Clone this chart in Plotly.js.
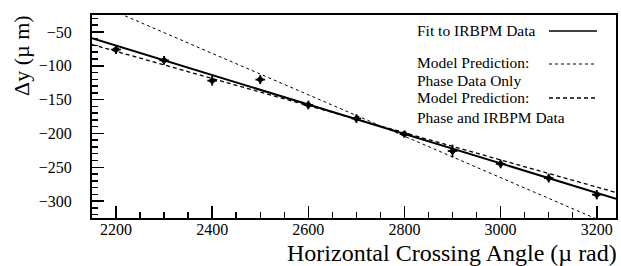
<!DOCTYPE html>
<html>
<head>
<meta charset="utf-8">
<script src="https://cdn.plot.ly/plotly-3.0.1.min.js"></script>
<style>html,body{margin:0;padding:0;background:#fff;}#chart{width:621px;height:266px;}</style>
</head>
<body>
<div id="chart"></div>
<script>
// Measured data (IRBPM)
var angle = [2200, 2300, 2400, 2500, 2600, 2700, 2800, 2900, 3000, 3100, 3200];
var deltaY = [-76, -92, -122, -120.5, -158, -178, -201, -226, -245, -266, -290.5];
var deltaYErr = [6.7, 6.5, 7.4, 6.7, 6.5, 6.5, 5, 9.4, 6.5, 6.5, 7];
var angleErr = [10, 10, 10, 10, 10, 10, 10, 10, 10, 10, 10];

// Lines (endpoints)
var fitX = [2150, 3240];
var fitY = [-59.3, -296.5];
var phaseOnlyX = [2150, 3240];
var phaseOnlyY = [-5.2, -338.8];
var phaseIrbpmX = [2150, 3240];
var phaseIrbpmY = [-68.7, -287.3];

var legendLabels = ["Fit to IRBPM Data", "Model Prediction:", "Phase Data Only", "Model Prediction:", "Phase and IRBPM Data"];

var serif = "'Liberation Serif', 'Times New Roman', 'DejaVu Serif', serif";

var traces = [
  {x: fitX, y: fitY, mode: 'lines', line: {color: '#000', width: 2}, showlegend: false, hoverinfo: 'skip'},
  {x: phaseOnlyX, y: phaseOnlyY, mode: 'lines', line: {color: '#000', width: 1, dash: 'dot'}, showlegend: false, hoverinfo: 'skip'},
  {x: phaseIrbpmX, y: phaseIrbpmY, mode: 'lines', line: {color: '#000', width: 1.3, dash: '4px,3px'}, showlegend: false, hoverinfo: 'skip'},
  {x: angle, y: deltaY, mode: 'markers', type: 'scatter',
   marker: {symbol: 'diamond', size: 6, color: '#000'},
   error_y: {type: 'data', array: deltaYErr, visible: true, color: '#000', thickness: 1.8, width: 0},
   error_x: {type: 'data', array: angleErr, visible: true, color: '#000', thickness: 1.8, width: 0},
   showlegend: false}
];

var L = 92, R = 616, T = 15, B = 218;
function px2x(p) { return (p - L) / (R - L); }
function px2y(p) { return (B - p) / (B - T); }

var annotations = [
  {text: 'Horizontal Crossing Angle (\u00b5 rad)', xref: 'paper', yref: 'paper', x: px2x(619), y: px2y(253),
   xanchor: 'right', yanchor: 'middle', showarrow: false, font: {family: serif, size: 24, color: '#000'}},
  {text: '\u0394y (\u00b5 m)', xref: 'paper', yref: 'paper', x: px2x(22), y: px2y(56), textangle: -90,
   xanchor: 'center', yanchor: 'middle', showarrow: false, font: {family: serif, size: 22, color: '#000'}}
];
var legYs = [30, 62, 80, 98, 117];
for (var i = 0; i < legendLabels.length; i++) {
  annotations.push({text: legendLabels[i], xref: 'paper', yref: 'paper', x: px2x(415), y: px2y(legYs[i]),
    xanchor: 'left', yanchor: 'middle', showarrow: false, font: {family: serif, size: 15.5, color: '#000'}});
}
var shapes = [
  {type: 'line', xref: 'paper', yref: 'paper', x0: px2x(549), x1: px2x(597), y0: px2y(31), y1: px2y(31), line: {color: '#000', width: 1.5}},
  {type: 'line', xref: 'paper', yref: 'paper', x0: px2x(549), x1: px2x(597), y0: px2y(64), y1: px2y(64), line: {color: '#000', width: 1, dash: 'dot'}},
  {type: 'line', xref: 'paper', yref: 'paper', x0: px2x(549), x1: px2x(597), y0: px2y(98), y1: px2y(98), line: {color: '#000', width: 1.3, dash: '4px,3px'}}
];

var layout = {
  width: 621, height: 266,
  margin: {l: L, r: 621 - R, t: T, b: 266 - B, pad: 0},
  paper_bgcolor: '#fff', plot_bgcolor: '#fff',
  showlegend: false,
  font: {family: serif, color: '#000'},
  xaxis: {range: [2150, 3240], dtick: 200, tick0: 2200, ticks: 'inside', ticklen: 12, tickwidth: 1.5, tickcolor: '#000',
          showline: true, linecolor: '#000', linewidth: 2, mirror: true, showgrid: false, zeroline: false,
          tickfont: {family: serif, size: 16, color: '#000'}, ticklabelstandoff: -4,
          minor: {dtick: 50, tick0: 2200, ticks: 'inside', ticklen: 6, tickwidth: 1.5, tickcolor: '#000', showgrid: false}},
  yaxis: {range: [-325, -25], dtick: 50, tick0: -300, ticks: 'inside', ticklen: 12, tickwidth: 1.5, tickcolor: '#000',
          showline: true, linecolor: '#000', linewidth: 2, mirror: true, showgrid: false, zeroline: false,
          tickfont: {family: serif, size: 16, color: '#000'}, ticklabelstandoff: 15,
          minor: {dtick: 10, tick0: -300, ticks: 'inside', ticklen: 6, tickwidth: 1.5, tickcolor: '#000', showgrid: false}},
  annotations: annotations,
  shapes: shapes
};

Plotly.newPlot('chart', traces, layout, {staticPlot: true, displayModeBar: false});
</script>
</body>
</html>
